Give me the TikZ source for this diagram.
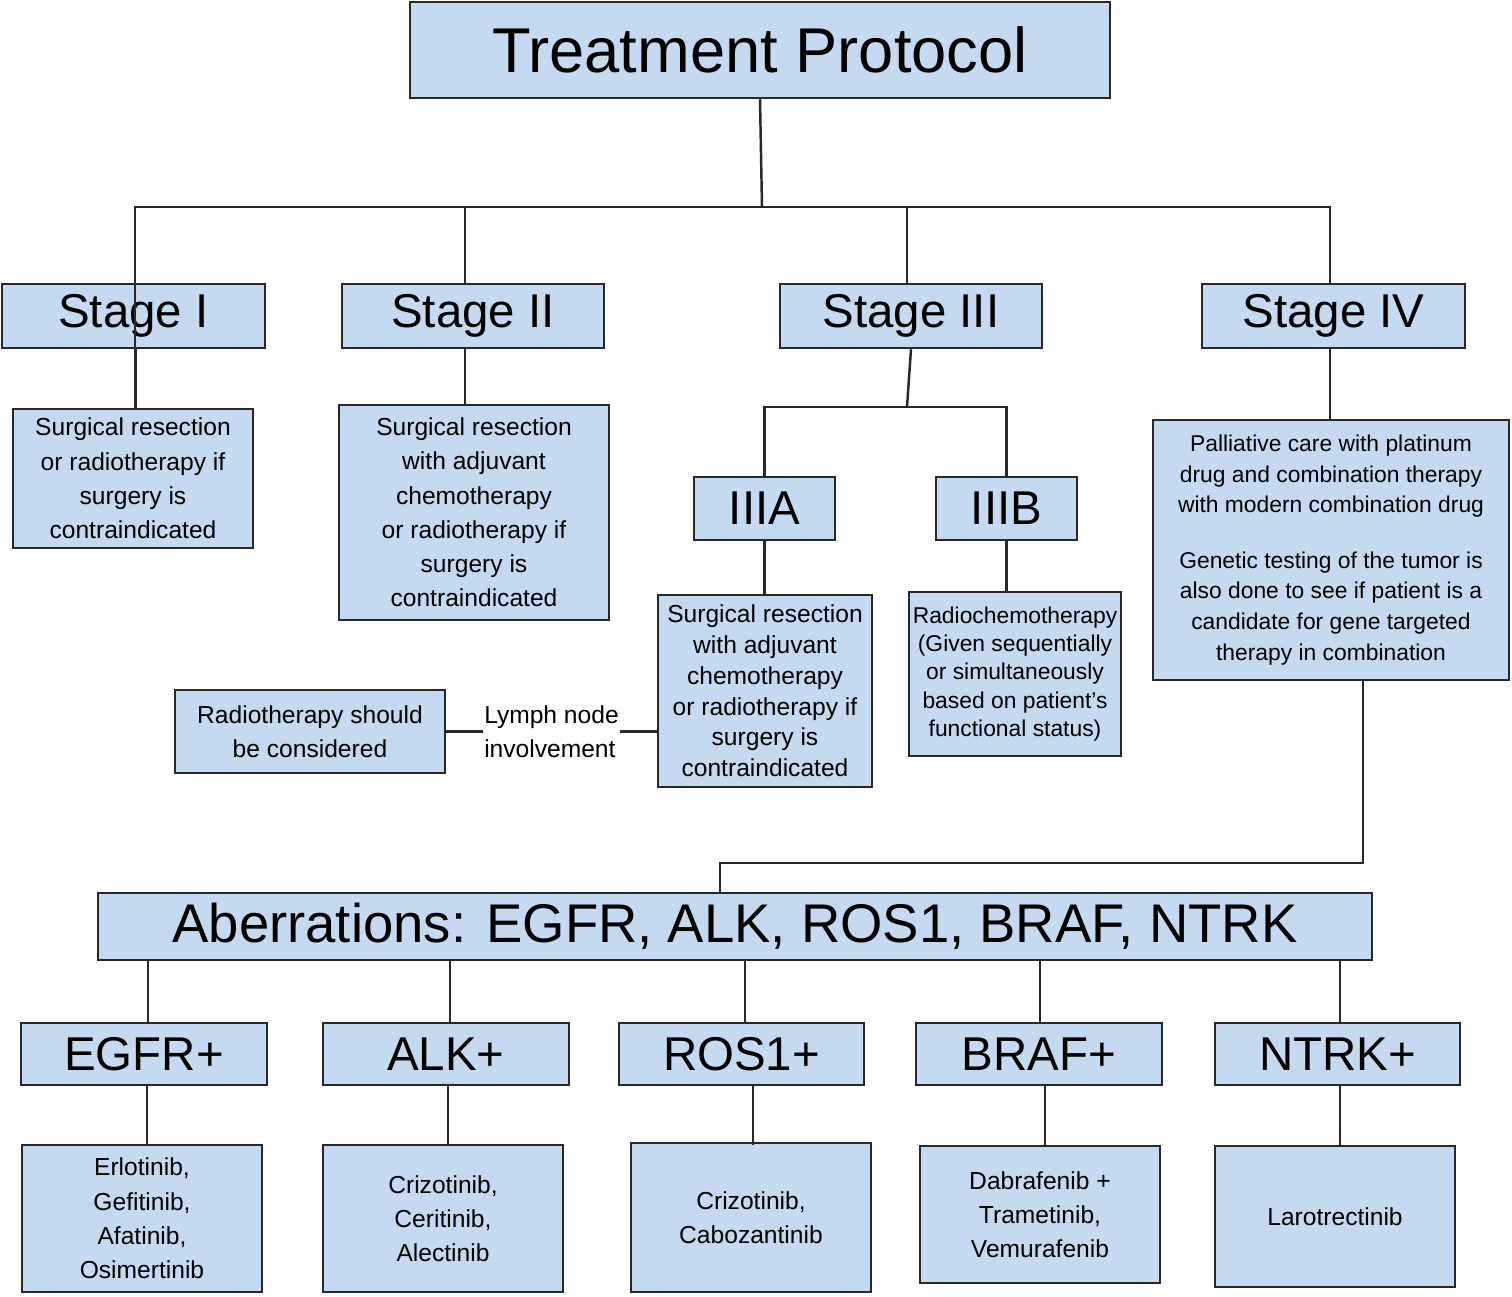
\documentclass[tikz,border=0pt]{standalone}
\usepackage{fontspec}
\setmainfont{Liberation Sans}
\definecolor{bfill}{RGB}{197,217,240}
\definecolor{bline}{RGB}{40,40,40}
\begin{document}
\begin{tikzpicture}[x=0.02cm,y=-0.02cm,
  box/.style={draw=bline,fill=bfill,line width=1.4pt,align=center,inner sep=0pt},
  ln/.style={draw=bline,line width=1.4pt},
  big/.style={font=\fontsize{36}{40}\selectfont},
  stg/.style={font=\fontsize{27}{30}\selectfont},
  txt/.style={font=\fontsize{14}{19.5}\selectfont},
  sml/.style={font=\fontsize{13}{17.5}\selectfont}]
\useasboundingbox (0,0) rectangle (1512,1296);
\newcommand{\bx}[7][]{\node[box,#1,minimum width={(#4-#2)*0.02cm},minimum height={(#5-#3)*0.02cm}] (#6) at ({(#2+#4)/2},{(#3+#5)/2}) {#7};}
\bx[big]{410}{2}{1110}{98}{title}{Treatment Protocol}
\bx[stg]{2}{284}{265}{348}{s1}{Stage I}
\bx[stg]{342}{284}{604}{348}{s2}{Stage II}
\bx[stg]{780}{284}{1042}{348}{s3}{Stage III}
\bx[stg]{1202}{284}{1465}{348}{s4}{Stage IV}
\bx[txt]{13}{409}{253}{548}{d1}{Surgical resection\\or radiotherapy if\\surgery is\\contraindicated}
\bx[txt]{339}{405}{609}{620}{d2}{Surgical resection\\with adjuvant\\chemotherapy\\or radiotherapy if\\surgery is\\contraindicated}
\bx[stg]{694}{477}{835}{540}{s3a}{IIIA}
\bx[stg]{936}{477}{1077}{540}{s3b}{IIIB}
\bx[sml,font=\fontsize{14}{17.5}\selectfont]{658}{595}{872}{787}{d3a}{Surgical resection\\with adjuvant\\chemotherapy\\or radiotherapy if\\surgery is\\contraindicated}
\bx[sml,font=\fontsize{13}{16}\selectfont]{909}{592}{1121}{756}{d3b}{Radiochemotherapy\\(Given sequentially\\or simultaneously\\based on patient's\\functional status)}
\bx[txt]{175}{690}{445}{773}{rt}{Radiotherapy should\\be considered}
\bx[sml]{1153}{420}{1509}{680}{d4}{Palliative care with platinum\\drug and combination therapy\\with modern combination drug\\[14pt]Genetic testing of the tumor is\\also done to see if patient is a\\candidate for gene targeted\\therapy in combination}
\bx[font=\fontsize{31}{34}\selectfont]{98}{893}{1372}{960}{ab}{Aberrations: EGFR, ALK, ROS1, BRAF, NTRK}
\bx[stg]{21}{1023}{267}{1085}{g1}{EGFR+}
\bx[stg]{323}{1023}{569}{1085}{g2}{ALK+}
\bx[stg]{619}{1023}{864}{1085}{g3}{ROS1+}
\bx[stg]{916}{1023}{1162}{1085}{g4}{BRAF+}
\bx[stg]{1215}{1023}{1460}{1085}{g5}{NTRK+}
\bx[txt]{22}{1145}{262}{1292}{t1}{Erlotinib,\\Gefitinib,\\Afatinib,\\Osimertinib}
\bx[txt]{323}{1145}{563}{1292}{t2}{Crizotinib,\\Ceritinib,\\Alectinib}
\bx[txt]{631}{1143}{871}{1292}{t3}{Crizotinib,\\Cabozantinib}
\bx[txt]{920}{1146}{1160}{1283}{t4}{Dabrafenib +\\Trametinib,\\Vemurafenib}
\bx[txt]{1215}{1146}{1455}{1287}{t5}{Larotrectinib}
% connectors
\coordinate (b1) at (762,207);
\draw[ln] (title.south) -- (b1);
\draw[ln] (135,348) |- (b1) -| (1330,284);
\draw[ln] (465,284) -- (465,207);
\draw[ln] (907,284) -- (907,207);
\draw[ln] (s1.south) ++(2,0) -- ++(0,61);
\draw[ln] (465,348) -- (465,405);
\coordinate (b3) at (907,407);
\draw[ln] (s3.south) -- (b3);
\draw[ln] (s3a.north) |- (b3) -| (s3b.north);
\draw[ln] (s3a.south) -- (s3a.south |- d3a.north);
\draw[ln] (s3b.south) -- (s3b.south |- d3b.north);
\draw[ln] (1330,348) -- (1330,420);
\draw[ln] (rt.east) -- node[txt,fill=white,inner sep=1pt,align=left]{Lymph node\\involvement} (rt.east -| d3a.west);
\coordinate (c1) at (1363,863);
\draw[ln] (1363,680) -- (c1) -| (720,893);
\foreach \i/\x/\y in {1/148/147,2/450/448,3/745/753,4/1040/1045,5/1340/1340}{
  \draw[ln] (\x,960) -- (\x,1023);
  \draw[ln] (\y,1085) -- (\y,1145);
}
\end{tikzpicture}
\end{document}
